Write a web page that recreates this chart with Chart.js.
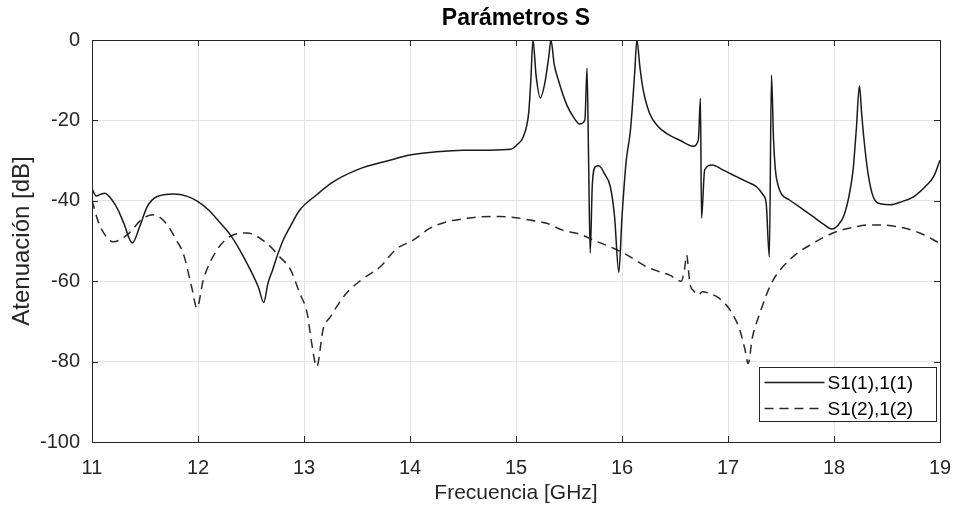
<!DOCTYPE html>
<html>
<head>
<meta charset="utf-8">
<script src="https://cdn.jsdelivr.net/npm/chart.js@4.4.1/dist/chart.umd.min.js"></script>
<style>
  html, body { margin: 0; padding: 0; background: #fff; }
</style>
</head>
<body>
<canvas id="chart" width="954" height="506"></canvas>
<script>
const chartTitle = 'Parámetros S';

// S1(1),1(1) - frequency (GHz) and attenuation (dB)
const freqS11 = [11.0, 11.04, 11.08, 11.12, 11.2, 11.25, 11.3, 11.38, 11.45, 11.52, 11.61, 11.77, 11.9, 12.0,
  12.1, 12.2, 12.3, 12.4, 12.5, 12.57, 12.62, 12.66, 12.7, 12.75, 12.8, 12.87, 12.96, 13.12, 13.25, 13.5, 13.81,
  14.0, 14.25, 14.5, 14.75, 14.95, 15.02, 15.07, 15.12, 15.14, 15.16, 15.19, 15.23, 15.27, 15.31, 15.33, 15.36,
  15.4, 15.48, 15.55, 15.6, 15.65, 15.67, 15.685, 15.7, 15.72, 15.75, 15.78, 15.84, 15.89, 15.93, 15.97, 16.0,
  16.04, 16.08, 16.12, 16.14, 16.17, 16.2, 16.26, 16.34, 16.42, 16.55, 16.67, 16.72, 16.74, 16.75, 16.78, 16.85,
  16.95, 17.08, 17.18, 17.27, 17.33, 17.36, 17.39, 17.41, 17.43, 17.46, 17.58, 17.7, 17.8, 17.9, 17.98, 18.04,
  18.09, 18.14, 18.18, 18.21, 18.24, 18.26, 18.28, 18.32, 18.37, 18.45, 18.53, 18.64, 18.75, 18.86, 18.94, 19.0];
const s11 = [-37, -38.8, -38.4, -38.1, -40.2, -42.5, -45.6, -50.5, -46.4, -41.5, -39, -38.3, -38.9, -40.2,
  -42.3, -45.2, -48.3, -52.5, -57.5, -61.5, -65.3, -60.5, -57.5, -53.5, -50, -46.4, -42.3, -38.5, -35.7, -32.3, -29.9,
  -28.6, -27.8, -27.4, -27.4, -27.2, -25.8, -24, -18, -10, 0, -9, -14.4, -11, -4, 0, -6,
  -10, -16.2, -19.5, -20.9, -19.9, -7, -30, -53, -36, -31.5, -31.3, -33.5, -36.5, -44, -57.8, -44,
  -30, -22.4, -8, 0, -7, -12.4, -18.2, -21.5, -23.2, -25, -26.4, -24.9, -14.5, -44.3, -32.3, -31.1,
  -32.3, -34, -35.3, -36.5, -38.5, -40.6, -54, -8.7, -25, -34.8, -39.8, -42, -43.9, -45.8, -47, -46,
  -43.9, -39, -32.3, -22.4, -11.4, -18, -24, -33, -39, -40.8, -41, -40.2, -39, -36.5, -34, -29.9];

// S1(2),1(2)
const freqS12 = [11.0, 11.05, 11.11, 11.2, 11.33, 11.48, 11.58, 11.7, 11.8, 11.86, 11.94, 11.99, 12.05, 12.18,
  12.33, 12.46, 12.65, 12.77, 12.87, 12.96, 13.03, 13.07, 13.12, 13.18, 13.25, 13.4, 13.55, 13.72, 13.87, 14.03,
  14.19, 14.35, 14.5, 14.65, 14.85, 15.0, 15.13, 15.29, 15.44, 15.6, 15.75, 15.92, 16.05, 16.23, 16.35, 16.45,
  16.56, 16.59, 16.61, 16.63, 16.64, 16.68, 16.72, 16.76, 16.82, 16.89, 16.95, 17.02, 17.11, 17.16, 17.19, 17.23,
  17.3, 17.41, 17.58, 17.8, 18.02, 18.18, 18.34, 18.45, 18.59, 18.81, 19.0];
const s12 = [-39.8, -44.5, -48, -50.2, -48.5, -44.4, -43.5, -45.6, -50, -53, -61.4, -66.7, -59.7, -52.2,
  -48.5, -48, -50.6, -53.9, -57, -63, -68, -75, -81.3, -72, -68.8, -63, -59.5, -56.4, -52, -49.8,
  -46.8, -45.2, -44.5, -44, -43.9, -44.2, -44.8, -45.6, -47.3, -48.3, -50, -51.8, -53.5, -56.4, -57.6, -58.5,
  -60, -57, -53.5, -58, -60.5, -62.5, -63.4, -62.6, -63, -63.8, -65, -67.2, -72, -77, -80.5, -74,
  -68, -60.5, -54.7, -50.6, -47.7, -46.6, -46, -46, -46.4, -48, -50.6];

const seriesNames = ['S1(1),1(1)', 'S1(2),1(2)'];
const xTicks = [11, 12, 13, 14, 15, 16, 17, 18, 19];
const yTicks = [0, -20, -40, -60, -80, -100];

const toPoints = (xs, ys) => xs.map((x, i) => ({ x: x, y: ys[i] }));

const axisColor = '#262626';
const fontFamily = '"Liberation Sans", Arial, sans-serif';

// title over the axes, box round the plot, inward ticks on all four sides, and the legend
const matlabAxes = {
  id: 'matlabAxes',
  afterDraw(chart) {
    const { ctx, chartArea: a, scales } = chart;
    const tl = 6;
    ctx.save();

    ctx.fillStyle = '#000';
    ctx.font = 'bold 23px ' + fontFamily;
    ctx.textAlign = 'center';
    ctx.textBaseline = 'middle';
    ctx.fillText(chartTitle, (a.left + a.right) / 2, 19);
    ctx.textAlign = 'left';

    ctx.strokeStyle = axisColor;
    ctx.lineWidth = 1;
    ctx.beginPath();
    xTicks.forEach((v) => {
      const px = Math.round(scales.x.getPixelForValue(v)) + 0.5;
      ctx.moveTo(px, a.bottom); ctx.lineTo(px, a.bottom - tl);
      ctx.moveTo(px, a.top); ctx.lineTo(px, a.top + tl);
    });
    yTicks.forEach((v) => {
      const py = Math.round(scales.y.getPixelForValue(v)) + 0.5;
      ctx.moveTo(a.left, py); ctx.lineTo(a.left + tl, py);
      ctx.moveTo(a.right, py); ctx.lineTo(a.right - tl, py);
    });
    ctx.stroke();
    ctx.strokeRect(Math.round(a.left) + 0.5, Math.round(a.top) + 0.5,
      Math.round(a.right - a.left), Math.round(a.bottom - a.top));

    // legend
    const boxW = 177, boxH = 54;
    const bx = Math.round(a.right - 4 - boxW) + 0.5;
    const by = Math.round(a.bottom - 21 - boxH) + 0.5;
    ctx.fillStyle = '#fff';
    ctx.fillRect(bx, by, boxW, boxH);
    ctx.strokeStyle = axisColor;
    ctx.strokeRect(bx, by, boxW, boxH);
    ctx.font = '19px ' + fontFamily;
    ctx.textBaseline = 'middle';
    chart.data.datasets.forEach((ds, i) => {
      const y = by + 15 + i * 26;
      ctx.strokeStyle = ds.borderColor;
      ctx.lineWidth = ds.borderWidth;
      ctx.setLineDash(ds.borderDash || []);
      ctx.beginPath();
      ctx.moveTo(bx + 5, y);
      ctx.lineTo(bx + 65, y);
      ctx.stroke();
      ctx.setLineDash([]);
      ctx.fillStyle = '#000';
      ctx.fillText(ds.label, bx + 68, y + 1);
    });
    ctx.restore();
  },
};

const ctx = document.getElementById('chart').getContext('2d');
const chart = new Chart(ctx, {
  type: 'scatter',
  data: {
    datasets: [
      {
        label: seriesNames[0],
        data: toPoints(freqS11, s11),
        showLine: true,
        borderColor: '#1a1a1a',
        borderWidth: 1.5,
        pointRadius: 0,
        cubicInterpolationMode: 'monotone',
      },
      {
        label: seriesNames[1],
        data: toPoints(freqS12, s12),
        showLine: true,
        borderColor: '#2a2a2a',
        borderWidth: 1.5,
        borderDash: [9, 6],
        pointRadius: 0,
        cubicInterpolationMode: 'monotone',
      },
    ],
  },
  options: {
    responsive: false,
    animation: false,
    devicePixelRatio: 1,
    layout: { padding: { left: 0, right: 14, top: 40, bottom: 0 } },
    plugins: {
      legend: { display: false },
      tooltip: { enabled: false },
      title: { display: false },
    },
    scales: {
      x: {
        type: 'linear',
        min: 11,
        max: 19,
        afterBuildTicks: (s) => { s.ticks = xTicks.map((v) => ({ value: v })); },
        afterFit: (s) => { s.height = 64; s.paddingLeft = 0; s.paddingRight = 0; },
        grid: { color: '#e3e3e3', drawTicks: false },
        border: { display: false },
        ticks: { color: axisColor, padding: 14, font: { family: fontFamily, size: 20 } },
        title: {
          display: true,
          text: 'Frecuencia [GHz]',
          color: axisColor,
          font: { family: fontFamily, size: 21 },
          padding: { top: 0, bottom: 0 },
        },
      },
      y: {
        min: -100,
        max: 0,
        afterBuildTicks: (s) => { s.ticks = yTicks.map((v) => ({ value: v })); },
        afterFit: (s) => { s.width = 92; s.paddingTop = 0; s.paddingBottom = 0; },
        grid: { color: '#e3e3e3', drawTicks: false },
        border: { display: false },
        ticks: { color: axisColor, padding: 12, font: { family: fontFamily, size: 20 } },
        title: {
          display: true,
          text: 'Atenuación [dB]',
          color: axisColor,
          font: { family: fontFamily, size: 24 },
          padding: { top: 8, bottom: 0 },
        },
      },
    },
  },
  plugins: [matlabAxes],
});
</script>
</body>
</html>
